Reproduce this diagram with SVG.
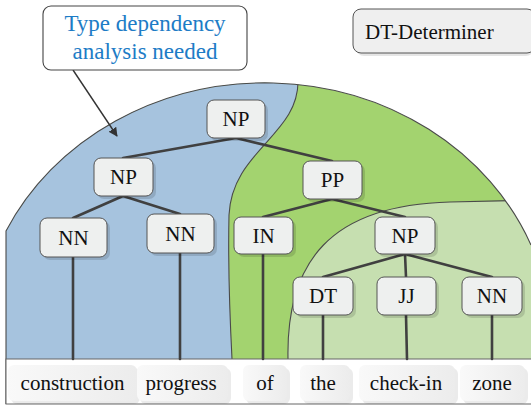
<svg xmlns="http://www.w3.org/2000/svg" width="531" height="405" viewBox="0 0 531 405">
<style>
.t{font-family:'Liberation Serif','DejaVu Serif','Noto Serif','Times New Roman',serif;font-size:21px;fill:#111;text-anchor:middle}
.box{fill:#eef0ef;stroke:#555;stroke-width:1}
.sh{fill:#000;fill-opacity:0.13}
.wbox{fill:url(#wg)}
.wsh{fill:#000;fill-opacity:0.08}
.edge{stroke:#404040;stroke-width:2.6;fill:none;stroke-linecap:round}
.bd{fill:none;stroke:#4a4a4a;stroke-width:1.1}
</style>
<defs>
<clipPath id="outer"><path d="M6,359 L6,231 A287,260 0 0 1 531,245 L531,359 Z"/></clipPath>
<linearGradient id="wg" x1="0" y1="0" x2="1" y2="0"><stop offset="0" stop-color="#f9f9f9"/><stop offset="1" stop-color="#ececec"/></linearGradient>
<marker id="ah" viewBox="0 0 10 10" refX="9" refY="5" markerWidth="9" markerHeight="9" orient="auto" markerUnits="userSpaceOnUse"><path d="M0,0 L10,5 L0,10 Z" fill="#333"/></marker>
</defs>

<g id="regions">
<path d="M6,359 L6,231 A287,260 0 0 1 531,245 L531,359 Z" fill="#a3d36f"/>
<g clip-path="url(#outer)">
<path d="M0,0 L298,0 L298,79 C300,135 232,150 229,215 C228,260 230,320 232,359 L0,359 Z" fill="#a6c3de"/>
<path d="M298,79 C300,135 232,150 229,215 C228,260 230,320 232,359" class="bd"/>
<path d="M288,359 C286,262 330,205 450,202 L540,200 L540,359 Z" fill="#c6dfb0"/>
<path d="M288,359 C286,262 330,205 450,202 L540,200" class="bd"/>
</g>
<path d="M6,404 L6,231 A287,260 0 0 1 531,245" class="bd"/>
</g>

<g id="wordstrip">
<rect x="6" y="359" width="530" height="45" fill="#fff" stroke="#666" stroke-width="1"/>
</g>

<g id="connectors">
<line class="edge" x1="236" y1="138" x2="123" y2="158"/>
<line class="edge" x1="236" y1="138" x2="332" y2="161"/>
<line class="edge" x1="123" y1="196" x2="73" y2="218"/>
<line class="edge" x1="123" y1="196" x2="180" y2="214"/>
<line class="edge" x1="332" y1="199" x2="263" y2="217"/>
<line class="edge" x1="332" y1="199" x2="405" y2="217"/>
<line class="edge" x1="405" y1="254" x2="323" y2="277"/>
<line class="edge" x1="405" y1="254" x2="406" y2="277"/>
<line class="edge" x1="405" y1="254" x2="492" y2="277"/>
<line class="edge" x1="73" y1="257" x2="73" y2="359"/>
<line class="edge" x1="180" y1="253" x2="180" y2="359"/>
<line class="edge" x1="263" y1="254" x2="263" y2="359"/>
<line class="edge" x1="323" y1="315" x2="323" y2="359"/>
<line class="edge" x1="406" y1="315" x2="407" y2="359"/>
<line class="edge" x1="492" y1="315" x2="492" y2="359"/>
<line x1="73" y1="70" x2="117" y2="136" stroke="#333" stroke-width="1.4" marker-end="url(#ah)"/>
</g>

<g id="node-NP-root"><rect class="sh" x="210" y="103" width="58" height="38" rx="7"/><rect class="box" x="207" y="100" width="58" height="38" rx="7"/><text class="t" x="236" y="126">NP</text></g>
<g id="node-NP-left"><rect class="sh" x="97" y="161" width="59" height="38" rx="7"/><rect class="box" x="94" y="158" width="59" height="38" rx="7"/><text class="t" x="123.5" y="184">NP</text></g>
<g id="node-NN-1"><rect class="sh" x="43" y="221" width="67" height="39" rx="7"/><rect class="box" x="40" y="218" width="67" height="39" rx="7"/><text class="t" x="73.5" y="245">NN</text></g>
<g id="node-NN-2"><rect class="sh" x="150" y="217" width="67" height="39" rx="7"/><rect class="box" x="147" y="214" width="67" height="39" rx="7"/><text class="t" x="180.5" y="241">NN</text></g>
<g id="node-IN"><rect class="sh" x="237" y="220" width="59" height="37" rx="7"/><rect class="box" x="234" y="217" width="59" height="37" rx="7"/><text class="t" x="263.5" y="243">IN</text></g>
<g id="node-PP"><rect class="sh" x="306" y="164" width="59" height="38" rx="7"/><rect class="box" x="303" y="161" width="59" height="38" rx="7"/><text class="t" x="332.5" y="187">PP</text></g>
<g id="node-NP-right"><rect class="sh" x="378" y="220" width="60" height="37" rx="7"/><rect class="box" x="375" y="217" width="60" height="37" rx="7"/><text class="t" x="405" y="243">NP</text></g>
<g id="node-DT"><rect class="sh" x="296" y="280" width="60" height="38" rx="7"/><rect class="box" x="293" y="277" width="60" height="38" rx="7"/><text class="t" x="323" y="303">DT</text></g>
<g id="node-JJ"><rect class="sh" x="380" y="280" width="59" height="38" rx="7"/><rect class="box" x="377" y="277" width="59" height="38" rx="7"/><text class="t" x="406.5" y="303">JJ</text></g>
<g id="node-NN-3"><rect class="sh" x="465" y="280" width="60" height="38" rx="7"/><rect class="box" x="462" y="277" width="60" height="38" rx="7"/><text class="t" x="492" y="303">NN</text></g>

<g id="word-construction"><rect class="wsh" x="11" y="368" width="129" height="36" rx="6"/><rect class="wbox" x="8" y="365" width="129" height="36" rx="6"/><text class="t" x="72.5" y="390">construction</text></g>
<g id="word-progress"><rect class="wsh" x="140" y="368" width="91" height="36" rx="6"/><rect class="wbox" x="137" y="365" width="91" height="36" rx="6"/><text class="t" x="181" y="390">progress</text></g>
<g id="word-of"><rect class="wsh" x="246" y="368" width="44" height="36" rx="6"/><rect class="wbox" x="243" y="365" width="44" height="36" rx="6"/><text class="t" x="265" y="390">of</text></g>
<g id="word-the"><rect class="wsh" x="303" y="368" width="50" height="36" rx="6"/><rect class="wbox" x="300" y="365" width="50" height="36" rx="6"/><text class="t" x="323" y="390">the</text></g>
<g id="word-check-in"><rect class="wsh" x="362" y="368" width="96" height="36" rx="6"/><rect class="wbox" x="359" y="365" width="96" height="36" rx="6"/><text class="t" x="406" y="390">check-in</text></g>
<g id="word-zone"><rect class="wsh" x="463" y="368" width="65" height="36" rx="6"/><rect class="wbox" x="460" y="365" width="65" height="36" rx="6"/><text class="t" x="492" y="390">zone</text></g>

<g id="callout"><rect x="43" y="6" width="204" height="64" rx="8" fill="#fff" stroke="#444" stroke-width="1.1"/><text class="t" x="145" y="31" style="font-size:23px;fill:#1d7cc6">Type dependency</text><text class="t" x="145" y="59" style="font-size:23px;fill:#1d7cc6">analysis needed</text></g>

<g id="legend"><rect x="356" y="12" width="178" height="44" rx="8" fill="#000" fill-opacity="0.1"/><rect x="353" y="9" width="182" height="44" rx="8" fill="#efefef" stroke="#555" stroke-width="1"/><text class="t" x="365" y="39" style="text-anchor:start">DT-Determiner</text></g>
</svg>
